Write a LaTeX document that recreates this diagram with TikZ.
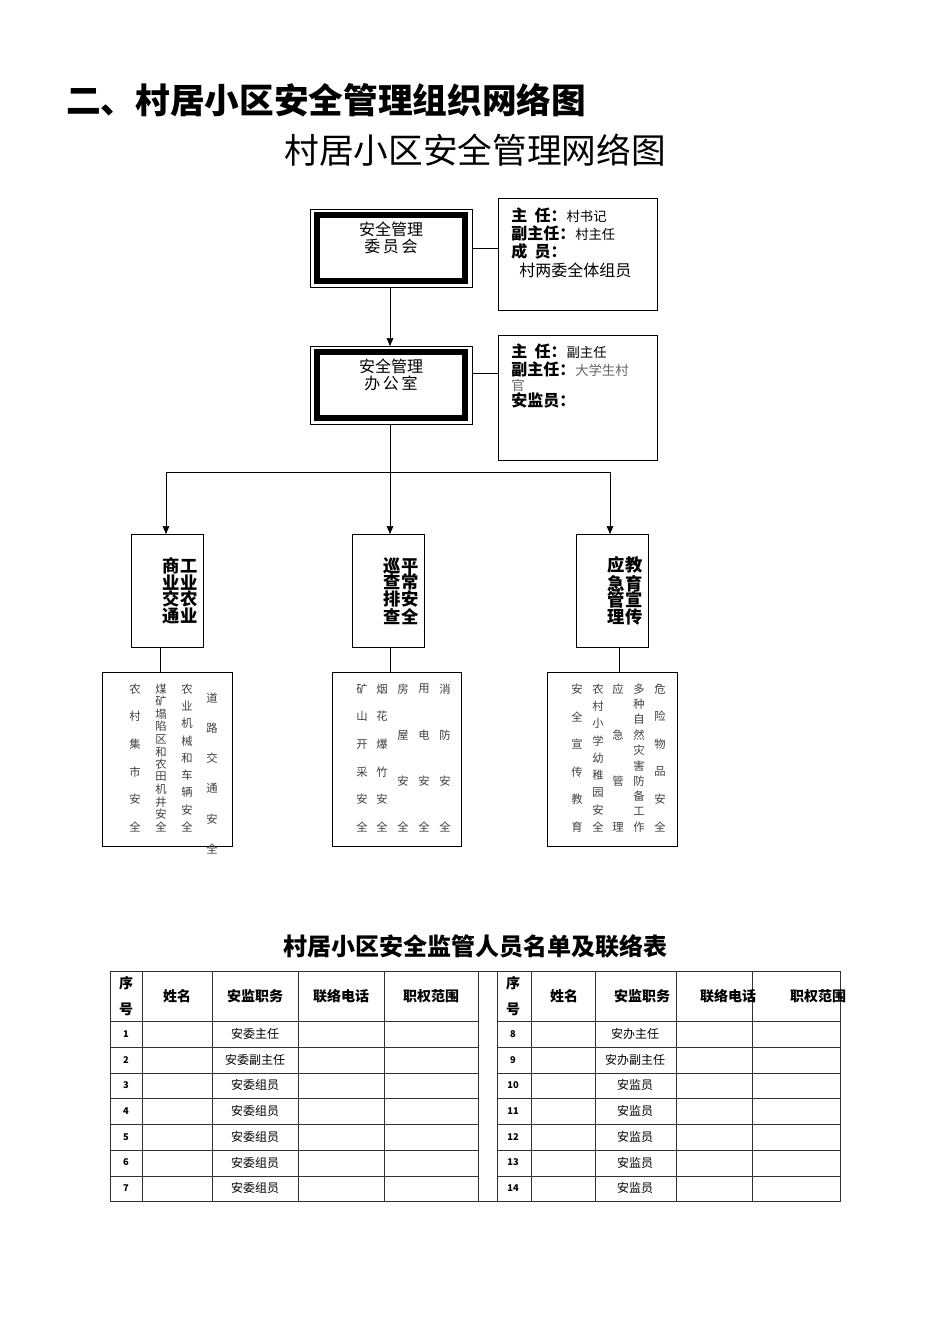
\documentclass[tikz,border=0pt]{standalone}
\usepackage{fontspec}
\setmainfont{Noto Sans CJK SC}
\usetikzlibrary{arrows.meta}

\newcommand\vtext[5]{% x, top, bottom, count, chars
  \pgfmathsetmacro\vstep{(#3-#2)/(#4-1)}
  \foreach \ch [count=\i from 0] in {#5}
    \node[detail] at (#1,{#2+\i*\vstep}) {\ch};}

\begin{document}
\begin{tikzpicture}[x=0.75pt,y=-0.75pt,>={Triangle[length=6pt,width=5pt]},
    detail/.style={inner sep=0pt,font=\fontsize{8.5}{9}\selectfont,text=black!75},
    info/.style={anchor=west,inner sep=0pt,font=\fontsize{10}{12}\selectfont},
    cell/.style={inner sep=0pt,font=\fontsize{9}{10}\selectfont},
    num/.style={inner sep=0pt,font=\bfseries\fontsize{7}{8}\selectfont},
    head/.style={inner sep=0pt,align=center,font=\bfseries\fontsize{10.5}{19}\selectfont}]
  \useasboundingbox (0,0) rectangle (950,1344);

  \node[anchor=west,inner sep=0pt,font=\bfseries\fontsize{26}{30}\selectfont] (heading) at (66,100) {二、村居小区安全管理组织网络图};
  \node[inner sep=0pt,font=\fontsize{26}{30}\selectfont] (title) at (475,150) {村居小区安全管理网络图};

  % double boxes
  \draw (310,209) rectangle (472,287);
  \draw[line width=4pt] (317,215) rectangle (465,281);
  \node[align=center,font=\fontsize{12}{13}\selectfont] (comm) at (391,248) {};
  \node[align=center,font=\fontsize{12}{13}\selectfont] at (391,238) {安全管理\\委\,员\,会};
  \coordinate (commR) at (472,248);
  \coordinate (commB) at (390,287);

  \draw (310,346) rectangle (472,424);
  \draw[line width=4pt] (317,352) rectangle (465,418);
  \node[align=center,font=\fontsize{12}{13}\selectfont] (office) at (391,375) {安全管理\\办\,公\,室};
  \coordinate (offT) at (390,346);
  \coordinate (offR) at (472,373);
  \coordinate (offB) at (390,424);

  % info boxes
  \draw (498,198) rectangle (657,310);
  \coordinate (info1) at (498,248);
  \node[info] at (511,215) {\textbf{\fontsize{12}{12}\selectfont 主\ \ 任：}村书记};
  \node[info] at (511,233) {\textbf{\fontsize{12}{12}\selectfont 副主任：}村主任};
  \node[info] at (511,251) {\textbf{\fontsize{12}{12}\selectfont 成\ \ 员：}};
  \node[info,font=\fontsize{12}{12}\selectfont] at (519,270) {村两委全体组员};

  \draw (498,335) rectangle (657,460);
  \coordinate (info2) at (498,373);
  \node[info] at (511,351) {\textbf{\fontsize{12}{12}\selectfont 主\ \ 任：}副主任};
  \node[info] at (511,369) {\textbf{\fontsize{12}{12}\selectfont 副主任：}\textcolor{black!60}{大学生村}};
  \node[info,text=black!60] at (511,385) {官};
  \node[info] at (511,400) {\textbf{\fontsize{12}{12}\selectfont 安监员：}};

  \draw (commR) -- (info1);
  \draw (offR) -- (info2);
  \draw[->] (commB) -- (offT);

  % branches
  \coordinate (fork) at (390,472);
  \coordinate (forkL) at (166,472);
  \coordinate (forkR) at (610,472);
  \draw (offB) -- (fork);
  \draw (forkL) -- (forkR);

  \draw (131,534) rectangle (203,647);
  \draw (352,534) rectangle (424,647);
  \draw (576,534) rectangle (648,647);
  \coordinate (catA) at (166,534);
  \coordinate (catB) at (390,534);
  \coordinate (catC) at (610,534);
  \draw[->] (forkL) -- (catA);
  \draw[->] (fork) -- (catB);
  \draw[->] (forkR) -- (catC);
  \node[align=left,font=\bfseries\fontsize{13}{12.5}\selectfont] (catAtxt) at (180,591) {商工\\业业\\交农\\通业};
  \node[align=left,font=\bfseries\fontsize{13}{12.5}\selectfont] (catBtxt) at (401,591) {巡平\\查常\\排安\\查全};
  \node[align=left,font=\bfseries\fontsize{13}{12.5}\selectfont] (catCtxt) at (625,591) {应教\\急育\\管宣\\理传};

  \draw (102,672) rectangle (232,846);
  \draw (332,672) rectangle (461,846);
  \draw (547,672) rectangle (677,846);
  \draw (160,647) -- (160,672);
  \draw (390,647) -- (390,672);
  \draw (619,647) -- (619,672);

  \vtext{135}{689}{827}{6}{农,村,集,市,安,全}
  \vtext{161}{689}{827}{12}{煤,矿,塌,陷,区,和,农,田,机,井,安,全}
  \vtext{187}{689}{827}{9}{农,业,机,械,和,车,辆,安,全}
  \vtext{212}{698}{849}{6}{道,路,交,通,安,全}
  \vtext{362}{689}{827}{6}{矿,山,开,采,安,全}
  \vtext{382}{689}{827}{6}{烟,花,爆,竹,安,全}
  \vtext{403}{689}{827}{4}{房,屋,安,全}
  \vtext{424}{689}{827}{4}{用,电,安,全}
  \vtext{445}{689}{827}{4}{消,防,安,全}
  \vtext{577}{689}{827}{6}{安,全,宣,传,教,育}
  \vtext{598}{689}{827}{9}{农,村,小,学,幼,稚,园,安,全}
  \vtext{618}{689}{827}{4}{应,急,管,理}
  \vtext{639}{689}{827}{10}{多,种,自,然,灾,害,防,备,工,作}
  \vtext{660}{689}{827}{6}{危,险,物,品,安,全}

  % table
  \node[inner sep=0pt,font=\bfseries\fontsize{18}{20}\selectfont] (ttitle) at (475,946) {村居小区安全监管人员名单及联络表};
  \draw[black!80] (110,971) rectangle (840,1201);
  \foreach \x in {142,212,298,384,478,497,531,595,676,752}
    \draw[black!80] (\x,971) -- (\x,1201);
  \foreach \y in {1021,1047,1073,1098,1124,1150,1176} {
    \draw[black!80] (110,\y) -- (478,\y);
    \draw[black!80] (497,\y) -- (840,\y);}
  \foreach \o in {0,387} {
    \node[head] at (126+\o,996) {序\\号};
    \node[head] at (177+\o,996) {姓名};
    \node[head] at (255+\o,996) {安监职务};
    \node[head] at (341+\o,996) {联络电话};
    \node[head] at (431+\o,996) {职权范围};}
  \foreach \n/\r in {1/安委主任,2/安委副主任,3/安委组员,4/安委组员,5/安委组员,6/安委组员,7/安委组员} {
    \node[num] at (126,{1034+(\n-1)*25.7}) {\n};
    \node[cell] at (255,{1034+(\n-1)*25.7}) {\r};}
  \foreach \n/\r in {8/安办主任,9/安办副主任,10/安监员,11/安监员,12/安监员,13/安监员,14/安监员} {
    \node[num] at (513,{1034+(\n-8)*25.7}) {\n};
    \node[cell] at (635,{1034+(\n-8)*25.7}) {\r};}
\end{tikzpicture}
\end{document}
